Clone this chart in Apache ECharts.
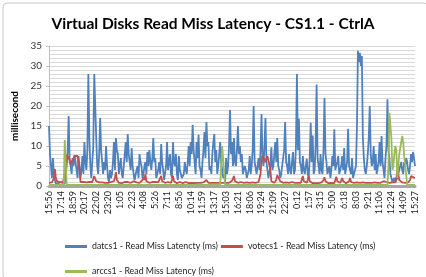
<!DOCTYPE html>
<html><head><meta charset="utf-8">
<script src="https://cdn.jsdelivr.net/npm/echarts@6/dist/echarts.min.js"></script>
<style>html,body{margin:0;padding:0;background:#fff}#c{width:426px;height:277px}</style>
</head><body><div id="c"></div>
<script>
const tickLabels = ["15:56","17:14","18:59","20:17","22:02","23:20","1:05","2:23","4:08","5:26","7:11","8:56","10:14","11:59","13:17","15:03","16:21","18:06","19:24","21:09","22:27","0:12","1:57","3:15","5:00","6:18","8:03","9:21","11:06","12:24","14:09","15:27"];
const pointsPerTick = 12;

const datcs1 = [
15,8,5,2,7,3,1.5,0.5,0.5,0.8,
0.8,0.5,0.5,1,1,0.5,0.5,1,5,9,
17.5,6,5,3,7,5,7.7,6,4,2,
7.5,5,2,4,7.5,3,11,6,4,9,
28,12,5,2,6,10,28,20,12,5,
3,8,17,9,6,3,6,4,10,5,
2,1,4,2,3,6,11,4,12,9,
8,3,5,7,3,2,5,8,11,6,
13,8,6,4,9.5,5,3,1.5,2,4,
5,2,8,6,5,2,3,5,6,3,
8.5,5,9,6,4,7,12,6,7,2,
3,4,6,3,10.5,6,4,1.5,2,5,
11,4,6,8,3,2,11,6,5,8,
3,1.5,7.5,4,3,2,2,3,6,4,
3,6,10,5,11,8,15.3,9,6,3,
11,7,12.8,5,4,2,6,9,13.5,7,
16,10,11,4,5,3,8,11,13,6,
9,3,5,8,11,6,4,2,3,1,
7,3,5,10,19,8,11,5,12,6,
5,9,15,8,10,6,8,3,3,5,
4,2,3,4,7.5,3,5,9,20,6,
6,3,5,7,4,9,18,7,5,10,
17,6,4,2,2,5,9.7,4,5,8,
11,6,12,5,4,2,3,5,7,9,
16,6,5,3,8,4,3,6,8.5,3,
4,10,28,9,16.8,6,5,3,7.5,4,
3,5,6.8,3,2,7,15.8,6,12.6,3,
4,10,25.4,7,5,3,8,4,3,9,
22,8,6,3,3,5,2,4,7.5,5,
14.2,4,4,6,7.5,3,3,5,7.5,4,
9.5,3,3,6,14.3,5,5,3,7,2,
3,4,5,15,33.8,31,33.3,30,32.5,12,
7,4,3,5,8,12,20,8,5,6,
10,4,8,3,3,6,11,5,12.5,6,
4,2,7,10,21.7,9,7,3,2,1,
1,2,1,1.5,2,3,4,5,6,4,
3,6,5,7,6,4,3,5,8,6,
8.5,7,5
];
const votecs1 = [
0.8,0.7,0.8,0.9,1,2,4.2,2,1.2,0.8,
0.8,1,1.2,0.9,0.8,1,1.3,4,7.8,7.8,
7.5,6.5,5.5,6,6.5,7,7.5,7.6,7.5,7.5,
7.3,4,1,0.8,0.8,1,0.7,0.9,0.9,0.7,
0.7,1,0.8,0.7,1,1.5,2.5,1.8,1.2,0.8,
0.7,0.9,0.8,0.7,0.9,1,0.7,0.8,1,0.9,
0.8,0.7,0.7,1,0.9,0.8,1.2,2,3.5,1.5,
1,0.8,0.8,0.9,0.7,0.8,0.9,1,0.8,0.7,
1,0.9,0.7,0.8,0.8,1,1.2,0.8,0.7,0.9,
0.9,0.7,0.8,1,1,1.5,2.2,1.5,3,1.2,
1.2,0.9,0.8,0.7,0.7,1,0.9,0.8,1,0.7,
0.8,0.9,0.7,1,2.5,1.2,1,0.8,0.8,0.7,
0.7,1,0.9,0.8,0.8,1.5,2.5,1.2,1,0.8,
0.7,0.9,0.8,1,1.1,0.8,0.7,0.9,0.9,1,
0.8,0.7,0.7,0.9,1,0.8,0.8,0.7,0.7,1,
0.9,0.8,1.2,1,0.8,0.7,0.7,0.9,1,1.3,
1.5,1,0.8,0.9,0.7,0.8,0.9,1,0.8,0.7,
1,0.8,0.7,0.9,0.8,1,0.9,0.8,0.7,0.9,
0.8,1,1,0.8,0.7,0.9,1.3,1.8,2.5,1.2,
1,0.9,0.8,0.7,0.7,1,0.9,0.8,0.8,0.7,
0.7,0.9,1,0.8,0.8,0.7,0.7,0.9,0.9,1,
0.8,0.9,1,1,1,3,6.5,7.5,7.8,7,
6,6.8,7.5,7.6,7.8,4,1.2,1,0.9,0.8,
0.8,1.5,2.7,2.8,2.5,1.2,0.9,0.8,0.8,0.7,
0.7,0.9,1,0.8,0.8,0.7,0.9,1,0.7,0.8,
0.8,0.9,1,0.8,0.7,0.9,0.8,1.2,2.5,1.2,
0.9,0.8,0.8,1.5,2.5,1.2,1,0.8,0.7,0.9,
0.8,0.7,0.9,1,0.7,0.8,0.8,0.9,1,1.5,
2.2,1.2,0.8,0.7,0.7,0.9,0.9,0.8,0.8,0.7,
0.7,1.2,2.3,1.2,0.9,0.8,0.8,1.2,2,1.2,
0.9,0.8,0.7,0.9,0.8,1.2,2,1,1,0.8,
0.8,0.7,0.7,0.9,0.9,0.8,0.8,0.7,0.7,0.9,
1,0.8,0.8,0.9,0.7,0.8,0.9,1,0.8,0.7,
1,0.9,0.7,0.8,0.8,0.9,0.9,0.8,0.7,1,
1.2,1,0.9,1,1.2,0.9,0.8,1,1,0.9,
0.8,1,0.9,2,4,3,1.5,1.2,1,0.9,
0.9,0.8,0.8,0.9,1,0.9,0.9,1.5,2.5,2.3,
2.2,2.1,2
];
const arccs1 = [
0.3,0.3,0.3,0.3,0.3,0.3,0.3,0.3,0.3,0.3,
0.3,0.3,0.3,0.3,0.3,0.3,11.5,11,0.3,0.3,
0.3,0.3,0.3,0.3,0.3,0.3,0.3,0.3,0.3,0.3,
0.3,0.3,0.3,0.3,0.3,0.3,0.3,0.3,0.3,0.3,
0.3,0.3,0.3,0.3,0.3,0.3,0.3,0.3,0.3,0.3,
0.3,0.3,0.3,0.3,0.3,0.3,0.3,0.3,0.3,0.3,
0.3,0.3,0.3,0.3,0.3,0.3,0.3,0.3,0.3,0.3,
0.3,0.3,0.3,0.3,0.3,0.3,0.3,0.3,0.3,0.3,
0.3,0.3,0.3,0.3,0.3,0.3,0.3,0.3,0.3,0.3,
0.3,0.3,0.3,0.3,0.3,0.3,0.3,0.3,0.3,0.3,
0.3,0.3,0.3,0.3,0.3,0.3,0.3,0.3,0.3,0.3,
0.3,0.3,0.3,0.3,0.3,0.3,0.3,0.3,0.3,0.3,
0.3,0.3,0.3,0.3,0.3,0.3,0.3,0.3,0.3,0.3,
0.3,0.3,0.3,0.3,0.3,0.3,0.3,0.3,0.3,0.3,
0.3,0.3,0.3,0.3,0.3,0.3,0.3,0.3,0.3,0.3,
0.3,0.3,0.3,0.3,0.3,0.3,0.3,0.3,0.3,0.3,
0.3,0.3,0.3,0.3,0.3,0.3,0.3,0.3,0.3,0.3,
0.3,0.3,0.3,0.3,0.3,0.3,10,10,10,0.3,
0.3,0.3,0.3,0.3,0.3,0.3,0.3,0.3,0.3,0.3,
0.3,0.3,0.3,0.3,0.3,0.3,0.3,0.3,0.3,0.3,
0.3,0.3,0.3,0.3,0.3,0.3,0.3,0.3,0.3,0.3,
0.3,0.3,0.3,0.3,0.3,0.3,0.3,0.3,0.3,0.3,
0.3,0.3,0.3,0.3,0.3,0.3,0.3,0.3,0.3,0.3,
0.3,0.3,0.3,0.3,0.3,0.3,0.3,0.3,0.3,0.3,
0.3,0.3,0.3,0.3,0.3,0.3,0.3,0.3,0.3,0.3,
0.3,0.3,0.3,0.3,0.3,0.3,0.3,0.3,0.3,0.3,
0.3,0.3,0.3,0.3,0.3,0.3,0.3,0.3,0.3,0.3,
0.3,0.3,0.3,0.3,0.3,0.3,0.3,0.3,0.3,0.3,
0.3,0.3,0.3,0.3,0.3,0.3,0.3,0.3,0.3,0.3,
0.3,0.3,0.3,0.3,0.3,0.3,0.3,0.3,0.3,0.3,
0.3,0.3,0.3,0.3,0.3,0.3,0.3,0.3,0.3,0.3,
0.3,0.3,0.3,0.3,0.3,0.3,0.3,0.3,0.3,0.3,
0.3,0.3,0.3,0.3,0.3,0.3,0.3,0.3,0.3,0.3,
0.3,0.3,0.3,0.3,0.3,0.3,0.3,0.3,0.3,0.3,
0.3,0.3,0.3,0.3,0.3,5,18.3,18,12,4,
5,8,10,9,2,5,8,7.5,8,12.5,
11,7.5,7,3,0.3,0.3,0.3,0.3,0.3,0.3,
0.3,0.3,0.3
];
const seriesNames = ["datcs1 - Read Miss Latencty (ms)","votecs1 - Read Miss Latency (ms)","arccs1 - Read Miss Latency (ms)"];
const colors = ["#4f81bd","#c0504d","#9bbb59"];

const categories = datcs1.map((v, i) => i % pointsPerTick === 0 ? tickLabels[i / pointsPerTick] : '');

const chart = echarts.init(document.getElementById('c'), null, {renderer: 'canvas'});
const FONT = 'Lato, "Liberation Sans", sans-serif';
chart.setOption({
  animation: false,
  backgroundColor: '#fff',
  textStyle: {fontFamily: FONT},
  title: {
    text: 'Virtual Disks Read Miss Latency - CS1.1 - CtrlA',
    left: 'center', top: 11,
    textStyle: {fontSize: 15.5, fontWeight: 'bold', color: '#000', fontFamily: FONT}
  },
  graphic: [{
    type: 'rect', left: 0.5, top: 0.5, silent: true,
    shape: {width: 425, height: 276, r: 4},
    style: {fill: 'none', stroke: '#c8c8c8', lineWidth: 1}
  }],
  legend: [{
    data: [seriesNames[0], seriesNames[1]],
    left: 60, top: 237, itemGap: 3,
    icon: 'rect', itemWidth: 22, itemHeight: 3,
    textStyle: {fontSize: 8.8, color: '#222', fontFamily: FONT}
  }, {
    data: [seriesNames[2]],
    left: 60, top: 262,
    icon: 'rect', itemWidth: 22, itemHeight: 3,
    textStyle: {fontSize: 8.8, color: '#222', fontFamily: FONT}
  }],
  grid: {left: 49, right: 11, top: 46, bottom: 91, containLabel: false},
  xAxis: {
    type: 'category', data: categories, boundaryGap: false,
    axisLine: {lineStyle: {color: '#a6a6a6', width: 3}},
    axisTick: {show: false},
    axisLabel: {rotate: 90, interval: (i) => i % pointsPerTick === 0, fontSize: 9, color: '#222', margin: 5, fontFamily: FONT}
  },
  yAxis: {
    type: 'value', min: 0, max: 35, interval: 5,
    name: 'millisecond', nameLocation: 'middle', nameGap: 27,
    nameTextStyle: {fontSize: 10, fontWeight: 'bold', color: '#000', fontFamily: FONT},
    axisLine: {show: true, lineStyle: {color: '#bfbfbf'}},
    axisTick: {show: true, length: 3, lineStyle: {color: '#bfbfbf'}},
    axisLabel: {fontSize: 10, color: '#333', margin: 7, fontFamily: FONT},
    splitLine: {lineStyle: {color: '#d9d9d9', width: 1}},
    minorTick: {show: false, splitNumber: 5},
    minorSplitLine: {show: true, lineStyle: {color: '#d9d9d9', width: 1}}
  },
  series: [datcs1, votecs1, arccs1].map((d, k) => ({
    name: seriesNames[k], type: 'line', data: d, showSymbol: false, symbol: 'none',
    lineStyle: {color: colors[k], width: 1.8}, itemStyle: {color: colors[k]}, z: 2 + k
  }))
});
</script></body></html>
